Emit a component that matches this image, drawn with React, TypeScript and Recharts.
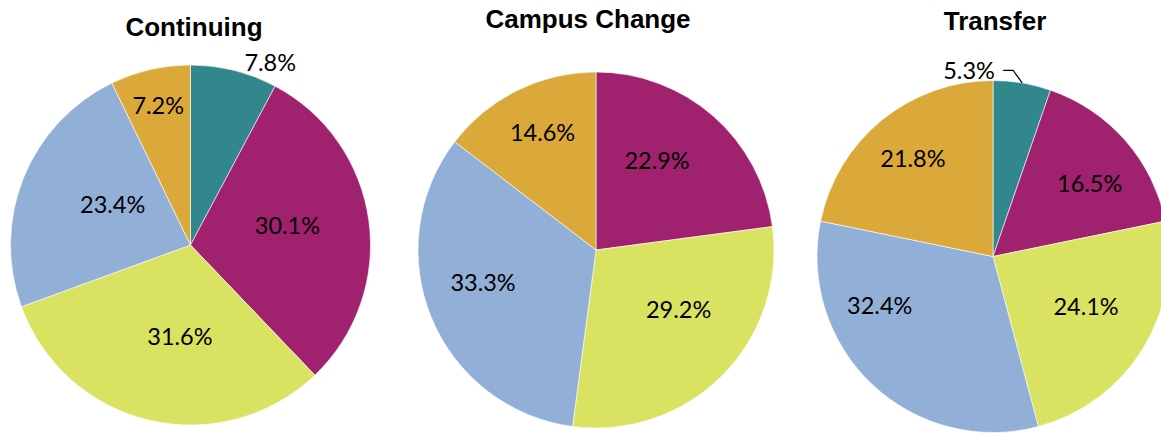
import React from "react";
import { PieChart, Pie, Cell } from "recharts";

const categories = ["Teal", "Magenta", "Yellow", "Blue", "Orange"];
const colors = ["#32878C", "#A0226E", "#DAE261", "#92AFD7", "#DBA93A"];

const continuingValues = [7.8, 30.1, 31.6, 23.4, 7.2];
const campusChangeValues = [0, 22.9, 29.2, 33.3, 14.6];
const transferValues = [5.3, 16.5, 24.1, 32.4, 21.8];

const titles = ["Continuing", "Campus Change", "Transfer"];

// label placement per slice: radius fraction, angle shift (deg)
const continuingLabelLayout = [
  { r: 1.11, d: -9.5 },
  { r: 0.55, d: 4 },
  { r: 0.51, d: 6.5 },
  { r: 0.49, d: -6 },
  { r: 0.8, d: 0 },
];
const campusLabelLayout = [
  { r: 0.6, d: 0 },
  { r: 0.61, d: 7 },
  { r: 0.57, d: 9.5 },
  { r: 0.66, d: -6.5 },
  { r: 0.73, d: -2 },
];
const transferLabelLayout = [
  { r: 1.1, d: 0, leader: true },
  { r: 0.69, d: -4 },
  { r: 0.6, d: 3.5 },
  { r: 0.7, d: -23.5 },
  { r: 0.72, d: 0 },
];

const W = 1161;
const H = 433;
const RAD = Math.PI / 180;

const pies = [
  { cx: 190.5, cy: 245, r: 180, values: continuingValues, layout: continuingLabelLayout, title: titles[0], tx: 194, ty: 36 },
  { cx: 596, cy: 250, r: 178, values: campusChangeValues, layout: campusLabelLayout, title: titles[1], tx: 588, ty: 28 },
  { cx: 993, cy: 256.5, r: 176, values: transferValues, layout: transferLabelLayout, title: titles[2], tx: 995, ty: 29.5 },
];

function makeLabel(layout: any[]) {
  return (props: any) => {
    const { cx, cy, midAngle, outerRadius, payload } = props;
    const idx = payload.idx;
    const lay = layout[idx];
    const v = payload.value;
    if (!v) return null;
    const a = (midAngle + lay.d) * RAD;
    const rr = outerRadius * lay.r;
    const x = cx + rr * Math.cos(a);
    const y = cy - rr * Math.sin(a);
    const txt = v.toFixed(1) + "%";
    if (lay.leader) {
      const ma = midAngle * RAD;
      const ex = cx + outerRadius * Math.cos(ma);
      const ey = cy - outerRadius * Math.sin(ma);
      const lx = x - 23;
      const ly = ey - 12.5;
      const tx = lx - 33;
      return (
        <g key={"l" + idx}>
          <polyline
            points={`${ex},${ey} ${ex - 9},${ly} ${ex - 19},${ly}`}
            fill="none"
            stroke="#000"
            strokeWidth={1.2}
          />
          <text x={tx} y={ly} textAnchor="middle" dominantBaseline="central" fontFamily="Lato" fontSize={23.5} fill="#000">
            {txt}
          </text>
        </g>
      );
    }
    return (
      <text key={"l" + idx} x={x} y={y} textAnchor="middle" dominantBaseline="central" fontFamily="Lato" fontSize={23.5} fill="#000">
        {txt}
      </text>
    );
  };
}

export default function App() {
  return (
    <div style={{ position: "absolute", left: 0, top: 0, width: W, height: H, overflow: "hidden", background: "#fff" }}>
      <PieChart width={W} height={H} margin={{ top: 0, right: 0, bottom: 0, left: 0 }}>
        {pies.map((p, pi) => {
          const data = categories
            .map((c, i) => ({ name: c, value: p.values[i], idx: i }))
            .filter((d) => d.value > 0);
          return (
            <Pie
              key={pi}
              data={data}
              dataKey="value"
              nameKey="name"
              cx={p.cx}
              cy={p.cy}
              outerRadius={p.r}
              innerRadius={0}
              startAngle={90}
              endAngle={-270}
              stroke="#ffffff"
              strokeWidth={0.6}
              isAnimationActive={false}
              labelLine={false}
              label={makeLabel(p.layout)}
            >
              {data.map((d) => (
                <Cell key={d.name} fill={colors[d.idx]} />
              ))}
            </Pie>
          );
        })}
      </PieChart>
      <svg width={W} height={H} style={{ position: "absolute", left: 0, top: 0, pointerEvents: "none" }}>
        {pies.map((p, i) => (
          <text key={i} x={p.tx} y={p.ty} textAnchor="middle" fontFamily="Liberation Sans, Arial, sans-serif" fontWeight="bold" fontSize={26} fill="#000">
            {p.title}
          </text>
        ))}
      </svg>
    </div>
  );
}
